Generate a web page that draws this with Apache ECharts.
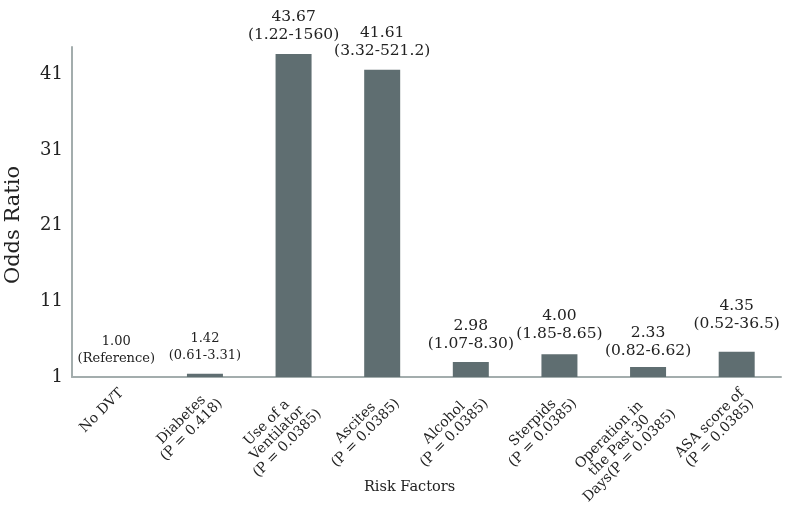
<!DOCTYPE html>
<html>
<head>
<meta charset="utf-8">
<script src="https://cdn.jsdelivr.net/npm/echarts@6/dist/echarts.min.js"></script>
<style>html,body{margin:0;padding:0;background:#fff;}#c{width:798px;height:507px;}</style>
</head>
<body>
<div id="c"></div>
<script>
const categories = [
  "No DVT",
  "Diabetes\n(P = 0.418)",
  "Use of a\nVentilator\n(P = 0.0385)",
  "Ascites\n(P = 0.0385)",
  "Alcohol\n(P = 0.0385)",
  "Sterpids\n(P = 0.0385)",
  "Operation in\nthe Past 30\nDays(P = 0.0385)",
  "ASA score of\n(P = 0.0385)"
];
const oddsRatios = [1.00, 1.42, 43.67, 41.61, 2.98, 4.00, 2.33, 4.35];
const ciLabels = ["(Reference)", "(0.61-3.31)", "(1.22-1560)", "(3.32-521.2)", "(1.07-8.30)", "(1.85-8.65)", "(0.82-6.62)", "(0.52-36.5)"];
const yTicks = [1, 11, 21, 31, 41];

const FONT = "DejaVu Serif";
const smallIdx = [0, 1];
const labelDist = [10, 10, 10, 10, 9, 11, 7, 19];

const data = oddsRatios.map((v, i) => ({
  value: v,
  label: {
    show: true,
    position: 'top',
    distance: labelDist[i],
    fontSize: smallIdx.includes(i) ? 13 : 15.5,
    lineHeight: smallIdx.includes(i) ? 17 : 18,
    formatter: () => v.toFixed(2) + "\n" + ciLabels[i]
  }
}));

const chart = echarts.init(document.getElementById('c'), null, {renderer: 'canvas'});
chart.setOption({
  animation: false,
  backgroundColor: '#fff',
  textStyle: {fontFamily: FONT, color: '#222'},
  grid: {left: 72, right: 17, top: 47, bottom: 130, containLabel: false, outerBoundsMode: 'none'},
  xAxis: {
    type: 'category',
    data: categories,
    name: 'Risk Factors',
    nameLocation: 'middle',
    nameGap: 103,
    nameMoveOverlap: false,
    nameTextStyle: {fontFamily: FONT, fontSize: 14.5, color: '#222', padding: [0, 34, 0, 0]},
    axisLine: {lineStyle: {color: '#a3adad', width: 2}},
    axisTick: {show: false},
    axisLabel: {
      interval: 0, rotate: 45, fontFamily: FONT, fontSize: 14, lineHeight: 14.5,
      color: '#222', margin: 9, align: 'right', verticalAlign: 'top',
      formatter: v => v.split('\n').map(s => '{c|' + s + '}').join('\n'),
      rich: {c: {align: 'center', fontFamily: FONT, fontSize: 14, lineHeight: 14.5, color: '#222'}}
    }
  },
  yAxis: {
    type: 'value',
    min: yTicks[0],
    max: 44.6,
    interval: 10,
    name: 'Odds Ratio',
    nameLocation: 'middle',
    nameGap: 48,
    nameRotate: 90,
    nameTextStyle: {fontFamily: FONT, fontSize: 21, color: '#222', padding: [0, 0, 0, -26]},
    axisLine: {show: true, lineStyle: {color: '#a3adad', width: 2}},
    axisTick: {show: false},
    splitLine: {show: false},
    axisLabel: {fontFamily: FONT, fontSize: 18, color: '#222', margin: 9, showMaxLabel: false,
      formatter: v => yTicks.includes(v) ? String(v) : ''}
  },
  series: [{
    type: 'bar',
    data: data,
    barWidth: 36,
    itemStyle: {color: '#5f6e71'},
    label: {color: '#222', fontFamily: FONT}
  }]
});
</script>
</body>
</html>
